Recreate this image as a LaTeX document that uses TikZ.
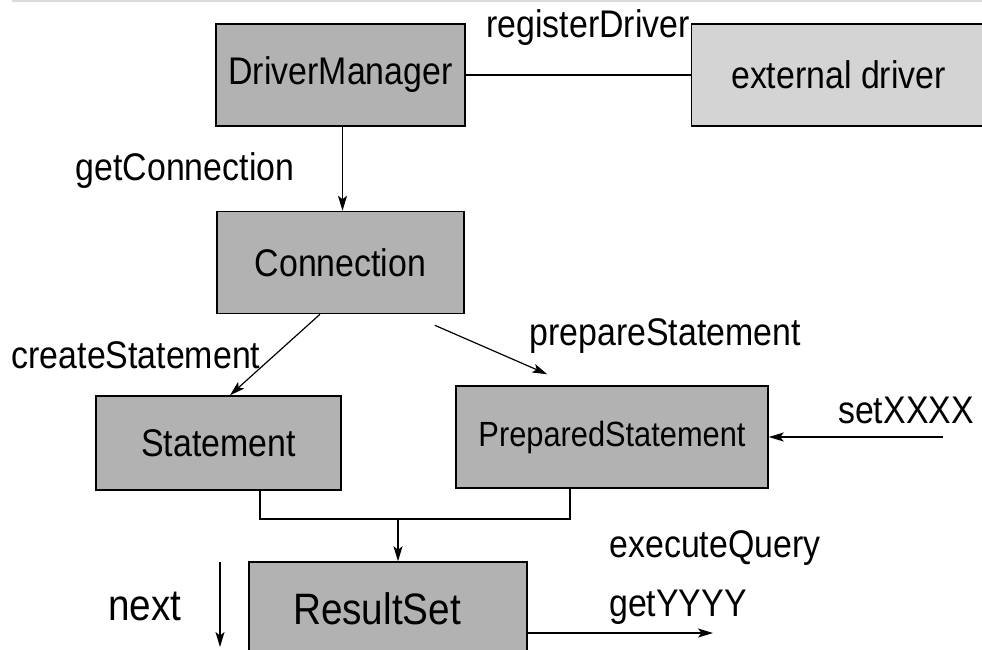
\documentclass[tikz,border=0pt]{standalone}
\usepackage{fontspec}
\setmainfont{Liberation Sans}[FakeStretch=0.88]
\usetikzlibrary{positioning,arrows.meta}

\definecolor{boxgray}{gray}{0.7}
\definecolor{extgray}{gray}{0.83}
\definecolor{rulegray}{gray}{0.86}
\newcommand{\lblfont}{\fontsize{38.5}{44}\selectfont}
\newcommand{\bigfont}{\fontsize{44}{50}\selectfont}
\newcommand{\psfont}{\fontsize{35}{40}\selectfont}

\begin{document}
\begin{tikzpicture}[
  x=1pt, y=1pt,
  font=\lblfont,
  box/.style={draw,line width=1.5pt,fill=boxgray,inner sep=0pt,minimum height=102pt,align=center},
  extbox/.style={box,fill=extgray},
  lbl/.style={inner sep=0pt},
  arr/.style={-{Stealth[length=15pt,width=9pt,inset=3.5pt]},line width=1.2pt},
  wire/.style={line width=1.2pt}
]
\useasboundingbox (0,0) rectangle (982,-649);
\draw[rulegray,line width=2pt] (12,-1) -- (982,-1);

% classes
\node[box,minimum width=249pt] (dm) at (340.5,-75) {DriverManager};
\node[extbox,minimum width=294pt,right=225pt of dm] (ext) {external driver};
\node[box,minimum width=247pt,below=84pt of dm] (con) {Connection};
\node[box,minimum width=245pt,minimum height=94pt] (st) at (218.5,-443) {Statement};
\node[box,minimum width=312pt,font=\psfont] (ps) at (612,-437) {PreparedStatement};
\node[box,minimum width=278pt,minimum height=94pt,font=\bigfont] (rs) at (388,-609) {\hspace*{-22pt}ResultSet};

% method labels
\node[lbl] (lreg) at (588,-28) {registerDriver};
\node[lbl] (lget) at (185,-171) {getConnection};
\node[lbl] (lcre) at (136,-355) {createStatement};
\node[lbl] (lpre) at (665,-336) {prepareStatement};
\node[lbl] (lset) at (906,-410) {setXXXX};
\node[lbl] (lexe) at (715,-548) {executeQuery};
\node[lbl,font=\bigfont] (lnext) at (145,-606) {next};
\node[lbl] (lyy) at (678,-607) {getYYYY};

% free ends
\coordinate[below left=11pt and 30pt of con.south east] (pstart);
\coordinate[above right=11pt and 92pt of ps.north west] (pend);
\coordinate[right=174pt of ps.east] (setin);
\coordinate (join) at (398,-519);
\coordinate (nexttop) at (220,-562);
\coordinate (nextend) at (220,-647);
\coordinate (getend) at (713,-633);

\draw[wire] (dm) -- (ext);
\draw[arr] ([xshift=2pt]dm.south) -- ([xshift=2pt]con.north);
\draw[arr] ([xshift=-20.5pt]con.south) -- ([xshift=11.5pt]st.north);
\draw[arr] (pstart) -- (pend);
\draw[arr] (setin) -- (ps.east);
\draw[wire] ([xshift=41.5pt]st.south) |- (join) -| ([xshift=-42pt]ps.south);
\draw[arr] (join) -- (join |- rs.north);
\draw[arr] (nexttop) -- (nextend);
\draw[arr] (getend -| rs.east) -- (getend);
\end{tikzpicture}
\end{document}
